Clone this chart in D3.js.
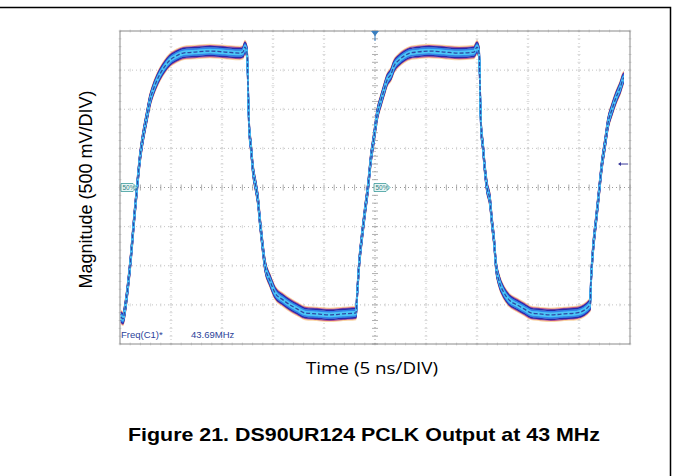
<!DOCTYPE html>
<html>
<head>
<meta charset="utf-8">
<script src="https://cdn.jsdelivr.net/npm/d3@7"></script>
<style>
  body { margin: 0; background: #fff; }
  svg { display: block; }
</style>
</head>
<body>
<div id="chart"></div>
<script>
// scope trace: time in ns, level in mV
const timeNs = [0.10, 0.29, 0.49, 0.78, 1.08, 1.37, 1.67, 1.96, 2.25, 2.65, 2.94, 3.24, 3.63, 3.92, 4.41, 4.90,
  5.49, 6.18, 7.35, 8.82, 10.29, 11.76, 12.06, 12.25, 12.45, 12.65, 12.84, 13.04, 13.33, 13.53, 13.73, 13.92,
  14.22, 14.71, 15.20, 15.98, 16.67, 17.35, 18.14, 19.31, 20.59, 21.86, 23.14,
  23.24, 23.43, 23.73, 24.02, 24.31, 24.61, 24.90, 25.20, 25.59, 25.88, 26.18, 26.57, 26.86, 27.35, 27.84,
  28.43, 29.12, 30.29, 31.76, 33.24, 34.71, 35.00, 35.20, 35.39, 35.59, 35.78, 35.98, 36.27, 36.47, 36.67,
  36.86, 37.16, 37.65, 38.14, 38.92, 39.61, 40.29, 41.08, 42.25, 43.53, 44.80, 46.08,
  46.18, 46.37, 46.67, 46.96, 47.25, 47.55, 47.84, 48.24, 48.63, 49.02, 49.41, 49.90];
const levelMv = [-1654, -1679, -1551, -1256, -872, -423, 0, 385, 641, 923, 1115, 1244, 1372, 1449, 1551, 1628,
  1679, 1718, 1731, 1744, 1731, 1718, 1731, 1795, 1718, 795, 513, 218, 0, -167, -449, -679,
  -1000, -1192, -1346, -1436, -1500, -1551, -1603, -1615, -1628, -1615, -1603,
  -1385, -1000, -615, -295, 0, 385, 641, 923, 1115, 1244, 1372, 1449, 1551, 1628,
  1679, 1718, 1731, 1744, 1731, 1718, 1731, 1795, 1718, 795, 513, 218, 0, -167, -449,
  -679, -1000, -1192, -1346, -1436, -1500, -1551, -1603, -1615, -1628, -1615, -1603,
  -1500, -1180, -800, -420, -60, 300, 560, 820, 1000, 1150, 1270, 1400];

const xDivs = d3.range(0, 11);      // 10 divisions x 5 ns
const yDivs = d3.range(-4, 5);      // 8 divisions x 500 mV
const nsPerDiv = 5, mvPerDiv = 500;

const W = 673, H = 476;
const plot = { left: 120, right: 630, top: 31, bottom: 344 };

const svg = d3.select("#chart").append("svg").attr("width", W).attr("height", H);

// page frame (top and right edge only, as in the datasheet crop)
svg.append("path").attr("d", `M0,7.5H670.5V${H}`).attr("fill", "none").attr("stroke", "#000").attr("stroke-width", 1.5);

const x = d3.scaleLinear().domain([0, 10 * nsPerDiv]).range([plot.left, plot.right]);
const y = d3.scaleLinear().domain([-4 * mvPerDiv, 4 * mvPerDiv]).range([plot.bottom, plot.top]);

const g = svg.append("g");

// grid: dotted division lines
g.selectAll(".vgrid").data(xDivs.slice(1, -1)).join("line")
  .attr("x1", d => x(d * nsPerDiv)).attr("x2", d => x(d * nsPerDiv))
  .attr("y1", plot.top).attr("y2", plot.bottom)
  .attr("stroke", d => d === 5 ? "#999" : "#c4c4c4").attr("stroke-dasharray", "1,3");
g.selectAll(".hgrid").data(yDivs.slice(1, -1)).join("line")
  .attr("y1", d => y(d * mvPerDiv)).attr("y2", d => y(d * mvPerDiv))
  .attr("x1", plot.left).attr("x2", plot.right)
  .attr("stroke", d => d === 0 ? "#999" : "#c4c4c4").attr("stroke-dasharray", "1,3");

// minor ticks, 5 per division, on every grid line
const xMinor = d3.range(0, 50.01, 1);
const yMinor = d3.range(-2000, 2000.01, 100);
yDivs.forEach(dv => {
  const yy = y(dv * mvPerDiv);
  const len = dv === 0 ? 3 : 1.5;
  g.append("g").selectAll("line").data(xMinor).join("line")
    .attr("x1", d => x(d)).attr("x2", d => x(d))
    .attr("y1", yy - len).attr("y2", yy + len)
    .attr("stroke", dv === 0 ? "#9a9a9a" : "#d0d0d0").attr("stroke-width", 0.8);
});
xDivs.forEach(dv => {
  const xx = x(dv * nsPerDiv);
  const len = dv === 5 ? 3 : 1.5;
  g.append("g").selectAll("line").data(yMinor).join("line")
    .attr("y1", d => y(d)).attr("y2", d => y(d))
    .attr("x1", xx - len).attr("x2", xx + len)
    .attr("stroke", dv === 5 ? "#9a9a9a" : "#d0d0d0").attr("stroke-width", 0.8);
});

// frame
g.append("rect").attr("x", plot.left).attr("y", plot.top)
  .attr("width", plot.right - plot.left).attr("height", plot.bottom - plot.top)
  .attr("fill", "none").attr("stroke", "#8a8a8a").attr("stroke-width", 1);

// trace, drawn as a persistence band (vertical jitter layers)
const trace = timeNs.map((t, i) => [t, levelMv[i]]);
const line = d3.line().x(d => x(d[0])).y(d => y(d[1])).curve(d3.curveMonotoneX);
svg.append("clipPath").attr("id", "plotclip").append("rect")
  .attr("x", plot.left).attr("y", plot.top).attr("width", plot.right - plot.left).attr("height", plot.bottom - plot.top);
const tg = svg.append("g").attr("clip-path", "url(#plotclip)");
const layers = [
  { dy: [-6.5, 6.5], color: "#f6c27a", w: 1.4, op: 0.7 },
  { dy: [-5.5, 5.5], color: "#b0307a", w: 1.2, op: 0.8 },
  { dy: [-4.5, -3, 3, 4.5], color: "#2a2aa8", w: 1.6, op: 1 },
  { dy: [-3, -1.5, 0, 1.5, 3], color: "#2f86ea", w: 1.6, op: 1 },
  { dy: [-1.5, -0.5, 0.5, 1.5], color: "#4cc6f6", w: 1.6, op: 1 }
];
layers.forEach(l => {
  l.dy.forEach(dy => {
    tg.append("path").attr("d", line(trace)).attr("transform", `translate(0,${dy})`)
      .attr("fill", "none").attr("stroke", l.color).attr("stroke-width", l.w).attr("opacity", l.op);
  });
});
// dark speckled centre so the fast edges look like the scope line
tg.append("path").attr("d", line(trace)).attr("fill", "none").attr("stroke", "#28288e").attr("stroke-width", 1.3)
  .attr("stroke-dasharray", "4,2").attr("opacity", 0.8);

// 50% markers
function levelTag(xx) {
  const yy = y(0);
  svg.append("path")
    .attr("d", `M${xx},${yy - 4}h12l4,4l-4,4h-12z`)
    .attr("fill", "#e8f6f6").attr("stroke", "#3a9a9a").attr("stroke-width", 0.8);
  svg.append("text").attr("x", xx + 1.5).attr("y", yy + 2.6).text("50%")
    .attr("font-family", "Arial, sans-serif").attr("font-size", 6.5).attr("fill", "#2a8080");
}
levelTag(plot.left + 1);
levelTag(x(5 * nsPerDiv) - 1);

// trigger marker on top
svg.append("path").attr("d", `M${x(25) - 4},${plot.top}h8l-4,5z`).attr("fill", "#3a7fc0");
svg.append("line").attr("x1", x(25)).attr("x2", x(25)).attr("y1", plot.top + 4).attr("y2", plot.top + 10)
  .attr("stroke", "#3a7fc0").attr("stroke-width", 1);

// level arrow at right
svg.append("line").attr("x1", 619).attr("x2", 628).attr("y1", y(300)).attr("y2", y(300))
  .attr("stroke", "#3a3a9a").attr("stroke-width", 1);
svg.append("path").attr("d", `M618,${y(300)}l3,-2v4z`).attr("fill", "#3a3a9a");

// measurement readout
svg.append("text").attr("x", plot.left + 1).attr("y", 338).text("Freq(C1)*")
  .attr("font-family", "Arial, sans-serif").attr("font-size", 9.5).attr("fill", "#2b3f9a");
svg.append("text").attr("x", 191).attr("y", 338).text("43.69MHz")
  .attr("font-family", "Arial, sans-serif").attr("font-size", 9.5).attr("fill", "#2b3f9a");

// axis titles
svg.append("text").attr("transform", `translate(92,${y(0) + 2}) rotate(-90)`)
  .attr("text-anchor", "middle").text("Magnitude (500 mV/DIV)")
  .attr("font-family", "Arial, 'Liberation Sans', sans-serif").attr("font-size", 18).attr("fill", "#000");
svg.append("text").attr("x", 372).attr("y", 374).attr("text-anchor", "middle").text("Time (5 ns/DIV)")
  .attr("font-family", "'Open Sans', sans-serif").attr("font-size", 17)
  .attr("textLength", 132).attr("lengthAdjust", "spacingAndGlyphs").attr("fill", "#000");

// figure caption
svg.append("text").attr("x", 364).attr("y", 441).attr("text-anchor", "middle")
  .text("Figure 21. DS90UR124 PCLK Output at 43 MHz")
  .attr("font-family", "Arial, 'Liberation Sans', sans-serif").attr("font-weight", "bold").attr("font-size", 19)
  .attr("textLength", 472).attr("lengthAdjust", "spacingAndGlyphs").attr("fill", "#000");
</script>
</body>
</html>
